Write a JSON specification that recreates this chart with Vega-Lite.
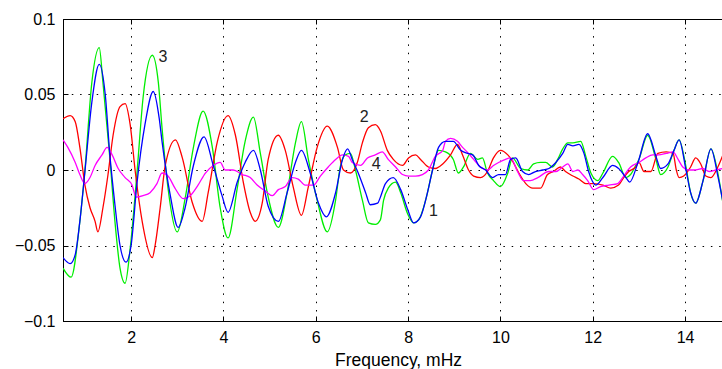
{
"$schema": "https://vega.github.io/schema/vega-lite/v6.json",
"width": 659, "height": 302,
"autosize": "none",
"padding": {"left": 63, "top": 19, "right": 0, "bottom": 48},
"background": "white",
"config": {"view": {"stroke": "black", "strokeWidth": 1}, "font": "Liberation Sans"},
"datasets": {
"curves": [
{"s":"3","x":0.525,"y":-0.065},{"s":"3","x":0.70,"y":-0.071},{"s":"3","x":0.89,"y":-0.034},{"s":"3","x":1.00,"y":0.000},{"s":"3","x":1.15,"y":0.058},{"s":"3","x":1.31,"y":0.081},{"s":"3","x":1.39,"y":0.058},{"s":"3","x":1.54,"y":0.008},{"s":"3","x":1.65,"y":-0.034},{"s":"3","x":1.76,"y":-0.065},{"s":"3","x":1.87,"y":-0.075},{"s":"3","x":1.98,"y":-0.052},{"s":"3","x":2.13,"y":-0.001},{"s":"3","x":2.26,"y":0.048},{"s":"3","x":2.46,"y":0.076},{"s":"3","x":2.59,"y":0.058},{"s":"3","x":2.67,"y":0.028},{"s":"3","x":2.80,"y":-0.012},{"s":"3","x":3.00,"y":-0.041},{"s":"3","x":3.17,"y":-0.019},{"s":"3","x":3.35,"y":0.015},{"s":"3","x":3.56,"y":0.039},{"s":"3","x":3.76,"y":0.015},{"s":"3","x":3.93,"y":-0.025},{"s":"3","x":4.10,"y":-0.045},{"s":"3","x":4.30,"y":-0.012},{"s":"3","x":4.47,"y":0.019},{"s":"3","x":4.65,"y":0.035},{"s":"3","x":4.80,"y":0.011},{"s":"3","x":4.95,"y":-0.015},{"s":"3","x":5.19,"y":-0.038},{"s":"3","x":5.38,"y":-0.015},{"s":"3","x":5.56,"y":0.018},{"s":"3","x":5.69,"y":0.032},{"s":"3","x":5.84,"y":0.007},{"s":"3","x":6.03,"y":-0.020},{"s":"3","x":6.25,"y":-0.041},{"s":"3","x":6.43,"y":-0.020},{"s":"3","x":6.53,"y":0.002},{"s":"3","x":6.64,"y":0.010},{"s":"3","x":6.75,"y":0.011},{"s":"3","x":6.86,"y":0.000},{"s":"3","x":7.01,"y":-0.020},{"s":"3","x":7.14,"y":-0.035},{"s":"3","x":7.29,"y":-0.036},{"s":"3","x":7.40,"y":-0.033},{"s":"3","x":7.47,"y":-0.020},{"s":"3","x":7.57,"y":-0.012},{"s":"3","x":7.73,"y":-0.008},{"s":"3","x":7.84,"y":-0.015},{"s":"3","x":7.99,"y":-0.029},{"s":"3","x":8.12,"y":-0.035},{"s":"3","x":8.23,"y":-0.033},{"s":"3","x":8.38,"y":-0.020},{"s":"3","x":8.53,"y":0.000},{"s":"3","x":8.66,"y":0.013},{"s":"3","x":8.81,"y":0.012},{"s":"3","x":8.98,"y":0.007},{"s":"3","x":9.09,"y":-0.002},{"s":"3","x":9.20,"y":0.002},{"s":"3","x":9.35,"y":0.011},{"s":"3","x":9.51,"y":0.007},{"s":"3","x":9.61,"y":0.008},{"s":"3","x":9.72,"y":-0.002},{"s":"3","x":9.85,"y":-0.007},{"s":"3","x":10.00,"y":-0.011},{"s":"3","x":10.16,"y":-0.002},{"s":"3","x":10.26,"y":0.008},{"s":"3","x":10.44,"y":0.001},{"s":"3","x":10.59,"y":0.000},{"s":"3","x":10.72,"y":0.004},{"s":"3","x":10.87,"y":0.005},{"s":"3","x":10.98,"y":0.005},{"s":"3","x":11.13,"y":0.002},{"s":"3","x":11.24,"y":0.007},{"s":"3","x":11.35,"y":0.014},{"s":"3","x":11.46,"y":0.018},{"s":"3","x":11.57,"y":0.018},{"s":"3","x":11.74,"y":0.019},{"s":"3","x":11.85,"y":0.009},{"s":"3","x":11.96,"y":-0.002},{"s":"3","x":12.11,"y":-0.007},{"s":"3","x":12.22,"y":-0.002},{"s":"3","x":12.43,"y":0.009},{"s":"3","x":12.56,"y":0.005},{"s":"3","x":12.72,"y":-0.005},{"s":"3","x":12.82,"y":-0.003},{"s":"3","x":12.93,"y":0.003},{"s":"3","x":13.00,"y":0.007},{"s":"3","x":13.19,"y":0.023},{"s":"3","x":13.37,"y":0.007},{"s":"3","x":13.47,"y":-0.003},{"s":"3","x":13.63,"y":0.002},{"s":"3","x":13.76,"y":0.013},{"s":"3","x":13.87,"y":0.020},{"s":"3","x":14.02,"y":0.002},{"s":"3","x":14.12,"y":-0.015},{"s":"3","x":14.23,"y":-0.022},{"s":"3","x":14.39,"y":-0.007},{"s":"3","x":14.56,"y":0.014},{"s":"3","x":14.71,"y":-0.002},{"s":"3","x":14.82,"y":-0.022},
{"s":"2","x":0.525,"y":0.034},{"s":"2","x":0.68,"y":0.036},{"s":"2","x":0.79,"y":0.032},{"s":"2","x":0.89,"y":0.015},{"s":"2","x":1.00,"y":-0.010},{"s":"2","x":1.11,"y":-0.025},{"s":"2","x":1.22,"y":-0.034},{"s":"2","x":1.28,"y":-0.041},{"s":"2","x":1.39,"y":-0.025},{"s":"2","x":1.50,"y":-0.003},{"s":"2","x":1.61,"y":0.023},{"s":"2","x":1.76,"y":0.042},{"s":"2","x":1.87,"y":0.044},{"s":"2","x":1.98,"y":0.030},{"s":"2","x":2.09,"y":-0.001},{"s":"2","x":2.24,"y":-0.034},{"s":"2","x":2.46,"y":-0.058},{"s":"2","x":2.52,"y":-0.050},{"s":"2","x":2.63,"y":-0.025},{"s":"2","x":2.74,"y":0.003},{"s":"2","x":2.96,"y":0.020},{"s":"2","x":3.11,"y":0.008},{"s":"2","x":3.32,"y":-0.021},{"s":"2","x":3.54,"y":-0.034},{"s":"2","x":3.67,"y":-0.015},{"s":"2","x":3.87,"y":0.019},{"s":"2","x":4.10,"y":0.036},{"s":"2","x":4.26,"y":0.023},{"s":"2","x":4.43,"y":-0.008},{"s":"2","x":4.58,"y":-0.028},{"s":"2","x":4.69,"y":-0.034},{"s":"2","x":4.84,"y":-0.022},{"s":"2","x":4.97,"y":0.007},{"s":"2","x":5.19,"y":0.023},{"s":"2","x":5.34,"y":0.013},{"s":"2","x":5.51,"y":-0.011},{"s":"2","x":5.69,"y":-0.030},{"s":"2","x":5.84,"y":-0.011},{"s":"2","x":6.03,"y":0.015},{"s":"2","x":6.25,"y":0.029},{"s":"2","x":6.47,"y":0.015},{"s":"2","x":6.60,"y":0.000},{"s":"2","x":6.75,"y":-0.002},{"s":"2","x":6.90,"y":0.005},{"s":"2","x":7.01,"y":0.018},{"s":"2","x":7.14,"y":0.028},{"s":"2","x":7.29,"y":0.030},{"s":"2","x":7.40,"y":0.026},{"s":"2","x":7.55,"y":0.013},{"s":"2","x":7.68,"y":0.007},{"s":"2","x":7.88,"y":0.003},{"s":"2","x":8.01,"y":0.008},{"s":"2","x":8.16,"y":0.010},{"s":"2","x":8.27,"y":0.007},{"s":"2","x":8.44,"y":0.002},{"s":"2","x":8.59,"y":0.001},{"s":"2","x":8.75,"y":0.004},{"s":"2","x":8.92,"y":0.010},{"s":"2","x":9.07,"y":0.017},{"s":"2","x":9.18,"y":0.010},{"s":"2","x":9.31,"y":0.000},{"s":"2","x":9.42,"y":-0.004},{"s":"2","x":9.57,"y":-0.005},{"s":"2","x":9.72,"y":-0.001},{"s":"2","x":9.85,"y":0.008},{"s":"2","x":10.00,"y":0.013},{"s":"2","x":10.16,"y":0.010},{"s":"2","x":10.26,"y":0.006},{"s":"2","x":10.40,"y":-0.002},{"s":"2","x":10.55,"y":-0.009},{"s":"2","x":10.70,"y":-0.012},{"s":"2","x":10.87,"y":-0.012},{"s":"2","x":11.02,"y":-0.003},{"s":"2","x":11.15,"y":-0.001},{"s":"2","x":11.30,"y":0.002},{"s":"2","x":11.41,"y":-0.001},{"s":"2","x":11.57,"y":-0.004},{"s":"2","x":11.70,"y":-0.006},{"s":"2","x":11.85,"y":-0.009},{"s":"2","x":12.02,"y":-0.009},{"s":"2","x":12.22,"y":-0.010},{"s":"2","x":12.39,"y":-0.012},{"s":"2","x":12.56,"y":-0.010},{"s":"2","x":12.67,"y":-0.005},{"s":"2","x":12.78,"y":-0.001},{"s":"2","x":12.93,"y":0.002},{"s":"2","x":13.00,"y":0.005},{"s":"2","x":13.11,"y":-0.001},{"s":"2","x":13.26,"y":-0.001},{"s":"2","x":13.41,"y":0.011},{"s":"2","x":13.59,"y":0.012},{"s":"2","x":13.74,"y":0.011},{"s":"2","x":13.81,"y":0.000},{"s":"2","x":13.87,"y":-0.005},{"s":"2","x":13.97,"y":-0.004},{"s":"2","x":14.12,"y":0.002},{"s":"2","x":14.23,"y":0.008},{"s":"2","x":14.34,"y":0.004},{"s":"2","x":14.45,"y":-0.004},{"s":"2","x":14.56,"y":-0.005},{"s":"2","x":14.71,"y":0.002},{"s":"2","x":14.82,"y":0.010},
{"s":"4","x":0.525,"y":0.020},{"s":"4","x":0.63,"y":0.015},{"s":"4","x":0.79,"y":0.005},{"s":"4","x":0.89,"y":-0.003},{"s":"4","x":1.00,"y":-0.009},{"s":"4","x":1.11,"y":-0.005},{"s":"4","x":1.22,"y":0.003},{"s":"4","x":1.37,"y":0.010},{"s":"4","x":1.48,"y":0.015},{"s":"4","x":1.59,"y":0.010},{"s":"4","x":1.72,"y":0.001},{"s":"4","x":1.87,"y":-0.005},{"s":"4","x":2.02,"y":-0.010},{"s":"4","x":2.11,"y":-0.018},{"s":"4","x":2.26,"y":-0.017},{"s":"4","x":2.41,"y":-0.015},{"s":"4","x":2.56,"y":-0.009},{"s":"4","x":2.67,"y":-0.002},{"s":"4","x":2.80,"y":-0.004},{"s":"4","x":2.95,"y":-0.012},{"s":"4","x":3.13,"y":-0.019},{"s":"4","x":3.28,"y":-0.017},{"s":"4","x":3.45,"y":-0.010},{"s":"4","x":3.61,"y":-0.002},{"s":"4","x":3.78,"y":0.003},{"s":"4","x":3.93,"y":0.005},{"s":"4","x":4.04,"y":0.000},{"s":"4","x":4.21,"y":0.000},{"s":"4","x":4.41,"y":-0.003},{"s":"4","x":4.58,"y":-0.005},{"s":"4","x":4.73,"y":-0.010},{"s":"4","x":4.91,"y":-0.014},{"s":"4","x":5.06,"y":-0.017},{"s":"4","x":5.19,"y":-0.013},{"s":"4","x":5.34,"y":-0.011},{"s":"4","x":5.49,"y":-0.005},{"s":"4","x":5.62,"y":-0.006},{"s":"4","x":5.77,"y":-0.010},{"s":"4","x":5.95,"y":-0.010},{"s":"4","x":6.10,"y":-0.004},{"s":"4","x":6.27,"y":0.002},{"s":"4","x":6.43,"y":0.007},{"s":"4","x":6.58,"y":0.010},{"s":"4","x":6.71,"y":0.009},{"s":"4","x":6.79,"y":0.005},{"s":"4","x":6.97,"y":0.003},{"s":"4","x":7.12,"y":0.008},{"s":"4","x":7.29,"y":0.010},{"s":"4","x":7.44,"y":0.012},{"s":"4","x":7.57,"y":0.007},{"s":"4","x":7.73,"y":0.002},{"s":"4","x":7.88,"y":-0.003},{"s":"4","x":8.01,"y":-0.004},{"s":"4","x":8.16,"y":-0.004},{"s":"4","x":8.31,"y":-0.003},{"s":"4","x":8.44,"y":0.000},{"s":"4","x":8.59,"y":0.009},{"s":"4","x":8.75,"y":0.013},{"s":"4","x":8.81,"y":0.019},{"s":"4","x":8.92,"y":0.021},{"s":"4","x":9.07,"y":0.019},{"s":"4","x":9.18,"y":0.015},{"s":"4","x":9.31,"y":0.011},{"s":"4","x":9.42,"y":0.007},{"s":"4","x":9.57,"y":0.002},{"s":"4","x":9.72,"y":0.000},{"s":"4","x":9.85,"y":0.003},{"s":"4","x":9.96,"y":0.005},{"s":"4","x":10.11,"y":0.007},{"s":"4","x":10.22,"y":0.008},{"s":"4","x":10.37,"y":-0.001},{"s":"4","x":10.50,"y":-0.007},{"s":"4","x":10.65,"y":-0.007},{"s":"4","x":10.81,"y":-0.005},{"s":"4","x":11.05,"y":-0.001},{"s":"4","x":11.20,"y":-0.001},{"s":"4","x":11.35,"y":0.002},{"s":"4","x":11.46,"y":0.004},{"s":"4","x":11.57,"y":-0.001},{"s":"4","x":11.68,"y":0.000},{"s":"4","x":11.78,"y":-0.003},{"s":"4","x":11.89,"y":-0.007},{"s":"4","x":12.02,"y":-0.013},{"s":"4","x":12.17,"y":-0.011},{"s":"4","x":12.35,"y":-0.010},{"s":"4","x":12.54,"y":-0.009},{"s":"4","x":12.67,"y":-0.004},{"s":"4","x":12.82,"y":0.002},{"s":"4","x":13.00,"y":0.005},{"s":"4","x":13.15,"y":0.008},{"s":"4","x":13.30,"y":0.010},{"s":"4","x":13.43,"y":0.010},{"s":"4","x":13.59,"y":0.011},{"s":"4","x":13.74,"y":0.012},{"s":"4","x":13.85,"y":0.007},{"s":"4","x":13.95,"y":0.002},{"s":"4","x":14.08,"y":0.000},{"s":"4","x":14.23,"y":0.000},{"s":"4","x":14.39,"y":0.001},{"s":"4","x":14.52,"y":-0.001},{"s":"4","x":14.67,"y":0.000},{"s":"4","x":14.82,"y":0.001},
{"s":"1","x":0.525,"y":-0.058},{"s":"1","x":0.68,"y":-0.062},{"s":"1","x":0.79,"y":-0.056},{"s":"1","x":0.89,"y":-0.034},{"s":"1","x":1.00,"y":-0.001},{"s":"1","x":1.15,"y":0.045},{"s":"1","x":1.31,"y":0.070},{"s":"1","x":1.44,"y":0.050},{"s":"1","x":1.54,"y":0.010},{"s":"1","x":1.65,"y":-0.023},{"s":"1","x":1.76,"y":-0.050},{"s":"1","x":1.89,"y":-0.061},{"s":"1","x":2.00,"y":-0.050},{"s":"1","x":2.13,"y":-0.008},{"s":"1","x":2.30,"y":0.030},{"s":"1","x":2.48,"y":0.052},{"s":"1","x":2.61,"y":0.034},{"s":"1","x":2.67,"y":0.019},{"s":"1","x":2.85,"y":-0.017},{"s":"1","x":3.02,"y":-0.038},{"s":"1","x":3.17,"y":-0.025},{"s":"1","x":3.35,"y":0.003},{"s":"1","x":3.58,"y":0.022},{"s":"1","x":3.78,"y":0.003},{"s":"1","x":3.97,"y":-0.017},{"s":"1","x":4.10,"y":-0.028},{"s":"1","x":4.30,"y":-0.008},{"s":"1","x":4.47,"y":0.005},{"s":"1","x":4.65,"y":0.013},{"s":"1","x":4.80,"y":0.000},{"s":"1","x":4.97,"y":-0.024},{"s":"1","x":5.19,"y":-0.034},{"s":"1","x":5.38,"y":-0.015},{"s":"1","x":5.56,"y":0.005},{"s":"1","x":5.69,"y":0.013},{"s":"1","x":5.88,"y":-0.002},{"s":"1","x":6.06,"y":-0.022},{"s":"1","x":6.23,"y":-0.031},{"s":"1","x":6.43,"y":-0.015},{"s":"1","x":6.58,"y":0.007},{"s":"1","x":6.69,"y":0.014},{"s":"1","x":6.79,"y":0.007},{"s":"1","x":6.92,"y":-0.002},{"s":"1","x":7.08,"y":-0.015},{"s":"1","x":7.18,"y":-0.023},{"s":"1","x":7.34,"y":-0.022},{"s":"1","x":7.40,"y":-0.018},{"s":"1","x":7.51,"y":-0.009},{"s":"1","x":7.68,"y":-0.005},{"s":"1","x":7.84,"y":-0.013},{"s":"1","x":7.99,"y":-0.026},{"s":"1","x":8.12,"y":-0.035},{"s":"1","x":8.27,"y":-0.031},{"s":"1","x":8.42,"y":-0.015},{"s":"1","x":8.53,"y":0.000},{"s":"1","x":8.66,"y":0.015},{"s":"1","x":8.81,"y":0.019},{"s":"1","x":8.98,"y":0.019},{"s":"1","x":9.14,"y":0.013},{"s":"1","x":9.29,"y":0.011},{"s":"1","x":9.40,"y":0.010},{"s":"1","x":9.53,"y":0.003},{"s":"1","x":9.68,"y":0.000},{"s":"1","x":9.83,"y":-0.005},{"s":"1","x":9.96,"y":-0.003},{"s":"1","x":10.11,"y":-0.003},{"s":"1","x":10.22,"y":0.007},{"s":"1","x":10.33,"y":0.008},{"s":"1","x":10.48,"y":-0.001},{"s":"1","x":10.61,"y":-0.003},{"s":"1","x":10.76,"y":-0.001},{"s":"1","x":10.92,"y":0.000},{"s":"1","x":11.05,"y":0.001},{"s":"1","x":11.20,"y":0.005},{"s":"1","x":11.35,"y":0.011},{"s":"1","x":11.46,"y":0.017},{"s":"1","x":11.57,"y":0.016},{"s":"1","x":11.70,"y":0.017},{"s":"1","x":11.81,"y":0.011},{"s":"1","x":11.91,"y":-0.001},{"s":"1","x":12.07,"y":-0.010},{"s":"1","x":12.22,"y":-0.005},{"s":"1","x":12.43,"y":0.003},{"s":"1","x":12.56,"y":0.001},{"s":"1","x":12.72,"y":-0.005},{"s":"1","x":12.80,"y":-0.008},{"s":"1","x":12.98,"y":0.005},{"s":"1","x":13.19,"y":0.024},{"s":"1","x":13.37,"y":0.009},{"s":"1","x":13.47,"y":0.001},{"s":"1","x":13.63,"y":0.004},{"s":"1","x":13.76,"y":0.013},{"s":"1","x":13.87,"y":0.020},{"s":"1","x":14.02,"y":0.000},{"s":"1","x":14.12,"y":-0.015},{"s":"1","x":14.23,"y":-0.022},{"s":"1","x":14.39,"y":-0.007},{"s":"1","x":14.56,"y":0.014},{"s":"1","x":14.71,"y":-0.004},{"s":"1","x":14.82,"y":-0.021}
],
"labels": [
{"t":"3","x":2.69,"y":0.0748},{"t":"2","x":7.05,"y":0.0351},{"t":"4","x":7.31,"y":0.0040},{"t":"1","x":8.55,"y":-0.0272}
]
},
"resolve": {"axis": {"x": "independent"}},
"layer": [
{
"encoding": {
"x": {"field":"x","type":"quantitative","scale":{"domain":[0.525,14.8],"nice":false,"zero":false},
 "axis":{"orient":"bottom","values":[2,4,6,8,10,12,14],"tickSize":-5,"tickColor":"black","domainColor":"black","labelColor":"black","labelFontSize":16,"labelPadding":13,"grid":true,"gridColor":"black","gridDash":[1.5,6.8],"gridOpacity":1,"title":"Frequency, mHz","titleFontSize":17.5,"titleFontWeight":"normal","titleColor":"black","titleBaseline":"alphabetic","titleAlign":"center","titleX":335,"titleY":44}},
"y": {"field":"y","type":"quantitative","scale":{"domain":[-0.1,0.1],"nice":false,"zero":false},
 "axis":{"values":[-0.1,-0.05,0,0.05,0.1],"format":"~g","tickSize":-5,"tickColor":"black","domainColor":"black","labelColor":"black","labelFontSize":16,"labelPadding":13,"grid":true,"gridColor":"black","gridDash":[1.5,6.8],"gridOpacity":1,"title":null}}
},
"layer": [
{"data":{"name":"curves"},"transform":[{"filter":"datum.s == '3'"}],"mark":{"type":"line","color":"#00ee00","strokeWidth":1.3,"clip":true,"interpolate":"monotone"}},
{"data":{"name":"curves"},"transform":[{"filter":"datum.s == '2'"}],"mark":{"type":"line","color":"#ff0000","strokeWidth":1.3,"clip":true,"interpolate":"monotone"}},
{"data":{"name":"curves"},"transform":[{"filter":"datum.s == '4'"}],"mark":{"type":"line","color":"#ff00ff","strokeWidth":1.3,"clip":true,"interpolate":"monotone"}},
{"data":{"name":"curves"},"transform":[{"filter":"datum.s == '1'"}],"mark":{"type":"line","color":"#0000ff","strokeWidth":1.3,"clip":true,"interpolate":"monotone"}}
]
},
{"data":{"name":"labels"},"mark":{"type":"text","fontSize":16,"color":"#222222","align":"center","baseline":"middle"},
 "encoding":{"text":{"field":"t"},
  "x":{"field":"x","type":"quantitative","axis":{"orient":"top","values":[2,4,6,8,10,12,14],"labels":false,"domain":false,"grid":false,"tickSize":-5,"tickColor":"black","title":null}},
  "y":{"field":"y","type":"quantitative"}}}
]
}
